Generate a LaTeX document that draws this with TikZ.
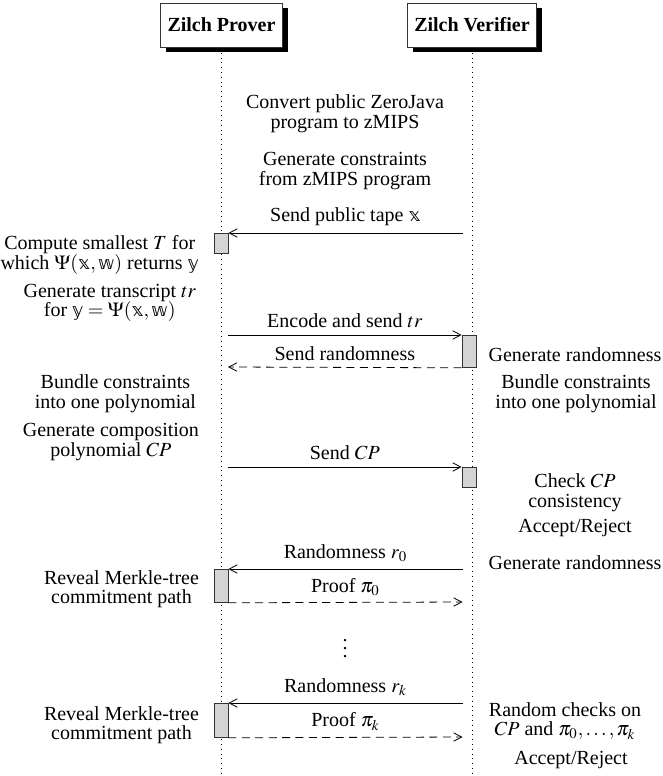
\documentclass[tikz,border=0pt]{standalone}
\usepackage{mathptmx}
\usepackage{fontspec}
\setmainfont{Liberation Serif}
\newfontfamily\dstruck{DejaVu Sans}
\newcommand{\bbx}[1]{\mbox{\dstruck\fontsize{9}{9}\selectfont #1}}
\usetikzlibrary{arrows.meta,positioning,shadows}
\tikzset{
    %Define standard arrow tip
    >={Straight Barb[length=4pt,width=4.2pt]},
    %Define style for the two parties
    party/.style={
           rectangle,
           draw=black!80,
           fill=white,
           font=\bfseries,
           inner xsep=3.5pt,
           minimum height=22pt,
           drop shadow={opacity=1,fill=black,
                        shadow xshift=2.7pt,shadow yshift=-2.7pt}},
    % Define style for activation boxes
    act/.style={
           rectangle,
           draw=black!80,
           fill=black!17,
           minimum width=7pt,
           inner sep=0pt,
           anchor=north},
    % Define style for side notes
    note/.style={
           align=center,
           font=\fontsize{10}{9.8}\selectfont},
    % Define message styles
    msg/.style={->},
    reply/.style={->,dash pattern=on 4pt off 2.7pt},
    life/.style={dotted}
}

\begin{document}
\begin{tikzpicture}[x=0.5pt,y=-0.5pt]
  \useasboundingbox (0,0) rectangle (663,776);
  \coordinate (bottom) at (0,776);
  % parties and lifelines
  \node[party] (prover) at (221.5,25) {Zilch Prover};
  \node[party,right=62pt of prover] (verifier) {Zilch Verifier};
  \draw[life] ([yshift=-2.7pt]prover.south) -- (prover.south |- bottom);
  \draw[life] ([yshift=-2.7pt]verifier.south) -- (verifier.south |- bottom);

  % setup
  \node[note] (convert) at (345,114) {Convert public ZeroJava\\program to \textsc{z}MIPS};
  \node[note] (constr) at (345,171) {Generate constraints\\from \textsc{z}MIPS program};

  % activation boxes
  \node[act,minimum height=10pt] (pa1) at (221,233) {};
  \node[act,minimum height=16pt] (va1) at (469,335) {};
  \node[act,minimum height=10pt] (va2) at (469,467) {};
  \node[act,minimum height=16.5pt] (pa2) at (221,569) {};
  \node[act,minimum height=17pt] (pa3) at (221,703) {};

  % message ends on the lifelines
  \coordinate (v1) at (462.5,233);
  \coordinate (p2) at (228,335);
  \coordinate (p3) at (228,367);
  \coordinate (p4) at (228,467);
  \coordinate (v5) at (462.5,569);
  \coordinate (v6) at (462.5,602);
  \coordinate (v7) at (462.5,703);
  \coordinate (v8) at (462.5,737);

  % messages
  \draw[msg] (v1) -- node[above] {Send public tape \bbx{𝕩}} (pa1.north east);
  \draw[msg] (p2) -- node[above] {Encode and send $tr$} (va1.north west);
  \draw[reply] (va1.south west) -- node[above] {Send randomness} (p3);
  \draw[msg] (p4) -- node[above] {Send $CP$} (va2.north west);
  \draw[msg] (v5) -- node[above] {Randomness $r_0$} (pa2.north east);
  \draw[reply] (pa2.south east) -- node[above] {Proof $\pi_0$} (v6);
  \node (dots) at (345,643) {$\vdots$};
  \draw[msg] (v7) -- node[above] {Randomness $r_k$} (pa3.north east);
  \draw[reply] (pa3.south east) -- node[above] {Proof $\pi_k$} (v8);

  % prover notes
  \node[note,anchor=east] (compute) at (206,255)
    {Compute smallest $T$ for\\which $\Psi(\bbx{𝕩},\bbx{𝕨})$ returns \bbx{𝕪}};
  \node[note,anchor=east] (transcript) at (203,303)
    {Generate transcript $tr$\\for $\bbx{𝕪}=\Psi(\bbx{𝕩},\bbx{𝕨})$};
  \node[note,anchor=east] (bundlep) at (203,394) {Bundle constraints\\into one polynomial};
  \node[note,anchor=east] (compos) at (206,442) {Generate composition\\polynomial $CP$};
  \node[note,anchor=east] (reveal0) at (206,589) {Reveal Merkle-tree\\commitment path};
  \node[note,anchor=east] (revealk) at (206,725) {Reveal Merkle-tree\\commitment path};

  % verifier notes
  \node[note] (rand0) at (575,355) {Generate randomness};
  \node[note] (bundlev) at (576,394) {Bundle constraints\\into one polynomial};
  \node[note] (check) at (575,493) {Check $CP$\\consistency};
  \node[note] (accept1) at (575,528) {Accept/Reject};
  \node[note] (rand1) at (575,563) {Generate randomness};
  \node[note] (random) at (565,721) {Random checks on\\$CP$ and $\pi_0,\dots,\pi_k$};
  \node[note] (accept2) at (571,760) {Accept/Reject};
\end{tikzpicture}
\end{document}
